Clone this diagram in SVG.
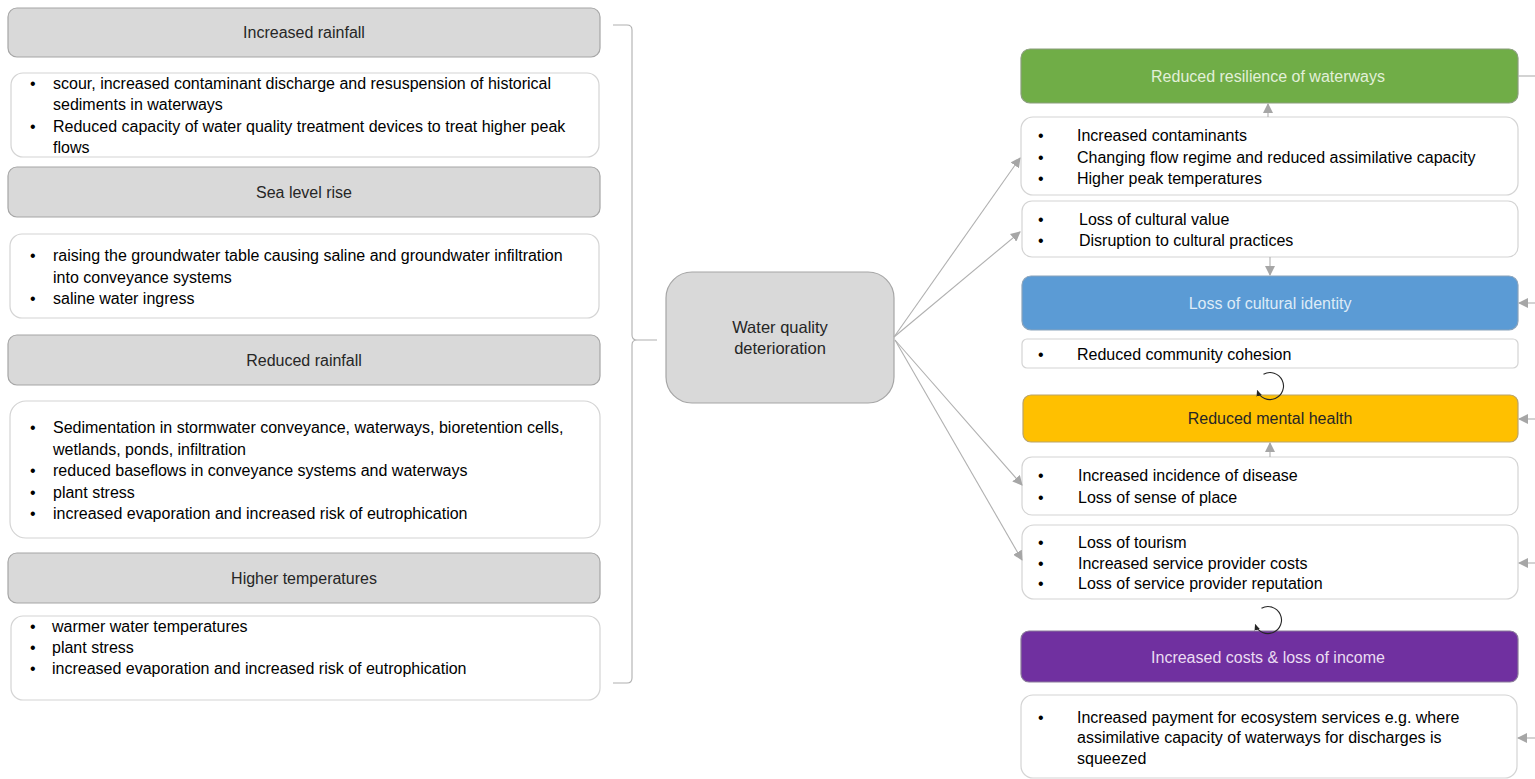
<svg xmlns="http://www.w3.org/2000/svg" width="1535" height="779" viewBox="0 0 1535 779">
  <style>
    text { font-family: "Liberation Sans", Arial, sans-serif; }
    .hdr { fill: #d9d9d9; stroke: #a6a6a6; stroke-width: 1.2; }
    .box { fill: #ffffff; stroke: #d4d4d4; stroke-width: 1.2; }
    .htxt { font-size: 16px; fill: #262626; text-anchor: middle; }
    .body { font-size: 16px; fill: #000000; }
    .conn { fill: none; stroke: #b0b0b0; stroke-width: 1.1; }
    .loop { fill: none; stroke: #262626; stroke-width: 1.1; }
  </style>
  <defs>
    <marker id="arrow" viewBox="0 0 10 10" refX="9" refY="5" markerWidth="10" markerHeight="10" markerUnits="userSpaceOnUse" orient="auto">
      <path d="M0,0 L10,5 L0,10 Z" fill="#a6a6a6"/>
    </marker>
    <marker id="loopHead" viewBox="0 0 10 10" refX="8" refY="5" markerWidth="7" markerHeight="7" markerUnits="userSpaceOnUse" orient="auto">
      <path d="M0,1 L9,5 L0,9 Z" fill="#262626"/>
    </marker>
  </defs>

  <!-- Drivers: left column -->
  <g id="increased-rainfall">
    <rect class="hdr" x="8" y="8" width="592" height="49" rx="9"/>
    <text class="htxt" x="304" y="38">Increased rainfall</text>
  </g>
  <g id="increased-rainfall-effects">
    <rect class="box" x="11" y="73" width="588" height="84" rx="12"/>
    <text class="body" x="30" y="89">•</text>
    <text class="body" x="53" y="89">scour, increased contaminant discharge and resuspension of historical</text>
    <text class="body" x="53" y="110">sediments in waterways</text>
    <text class="body" x="30" y="132">•</text>
    <text class="body" x="53" y="132">Reduced capacity of water quality treatment devices to treat higher peak</text>
    <text class="body" x="53" y="153">flows</text>
  </g>

  <g id="sea-level-rise">
    <rect class="hdr" x="8" y="167" width="592" height="50" rx="9"/>
    <text class="htxt" x="304" y="198">Sea level rise</text>
  </g>
  <g id="sea-level-rise-effects">
    <rect class="box" x="10" y="234" width="589" height="84" rx="12"/>
    <text class="body" x="30" y="261">•</text>
    <text class="body" x="53" y="261">raising the groundwater table causing saline and groundwater infiltration</text>
    <text class="body" x="53" y="283">into conveyance systems</text>
    <text class="body" x="30" y="304">•</text>
    <text class="body" x="53" y="304">saline water ingress</text>
  </g>

  <g id="reduced-rainfall">
    <rect class="hdr" x="8" y="335" width="592" height="50" rx="9"/>
    <text class="htxt" x="304" y="366">Reduced rainfall</text>
  </g>
  <g id="reduced-rainfall-effects">
    <rect class="box" x="10" y="401" width="590" height="137" rx="16"/>
    <text class="body" x="30" y="433">•</text>
    <text class="body" x="53" y="433">Sedimentation in stormwater conveyance, waterways, bioretention cells,</text>
    <text class="body" x="53" y="455">wetlands, ponds, infiltration</text>
    <text class="body" x="30" y="476">•</text>
    <text class="body" x="53" y="476">reduced baseflows in conveyance systems and waterways</text>
    <text class="body" x="30" y="498">•</text>
    <text class="body" x="53" y="498">plant stress</text>
    <text class="body" x="30" y="519">•</text>
    <text class="body" x="53" y="519">increased evaporation and increased risk of eutrophication</text>
  </g>

  <g id="higher-temperatures">
    <rect class="hdr" x="8" y="553" width="592" height="50" rx="9"/>
    <text class="htxt" x="304" y="584">Higher temperatures</text>
  </g>
  <g id="higher-temperatures-effects">
    <rect class="box" x="11" y="616" width="589" height="84" rx="12"/>
    <text class="body" x="30" y="632">•</text>
    <text class="body" x="52" y="632">warmer water temperatures</text>
    <text class="body" x="30" y="653">•</text>
    <text class="body" x="52" y="653">plant stress</text>
    <text class="body" x="30" y="674">•</text>
    <text class="body" x="52" y="674">increased evaporation and increased risk of eutrophication</text>
  </g>

  <!-- Central node -->
  <g id="water-quality-deterioration">
    <rect x="666" y="272" width="228" height="131" rx="26" fill="#d9d9d9" stroke="#a6a6a6" stroke-width="1.2"/>
    <text x="780" y="333" font-size="16.5" fill="#262626" text-anchor="middle">Water quality</text>
    <text x="780" y="354" font-size="16.5" fill="#262626" text-anchor="middle">deterioration</text>
  </g>

  <!-- Impacts: right column -->
  <g id="reduced-resilience">
    <rect x="1021" y="49" width="497" height="54" rx="9" fill="#70ad47" stroke="#8a9e7c" stroke-width="1.2"/>
    <text x="1268" y="82" font-size="16" fill="#e2f0d9" text-anchor="middle">Reduced resilience of waterways</text>
  </g>
  <g id="waterway-effects">
    <rect class="box" x="1021" y="117" width="497" height="78" rx="12"/>
    <text class="body" x="1038" y="141">•</text>
    <text class="body" x="1077" y="141">Increased contaminants</text>
    <text class="body" x="1038" y="163">•</text>
    <text class="body" x="1077" y="163">Changing flow regime and reduced assimilative capacity</text>
    <text class="body" x="1038" y="184">•</text>
    <text class="body" x="1077" y="184">Higher peak temperatures</text>
  </g>
  <g id="cultural-effects">
    <rect class="box" x="1022" y="201" width="496" height="56" rx="10"/>
    <text class="body" x="1038" y="225">•</text>
    <text class="body" x="1079" y="225">Loss of cultural value</text>
    <text class="body" x="1038" y="246">•</text>
    <text class="body" x="1079" y="246">Disruption to cultural practices</text>
  </g>
  <g id="loss-of-cultural-identity">
    <rect x="1022" y="276" width="496" height="54" rx="9" fill="#5b9bd5" stroke="#8aa3bb" stroke-width="1.2"/>
    <text x="1270" y="309" font-size="16" fill="#deebf7" text-anchor="middle">Loss of cultural identity</text>
  </g>
  <g id="community-effects">
    <rect class="box" x="1022" y="339" width="496" height="29" rx="5"/>
    <text class="body" x="1038" y="360">•</text>
    <text class="body" x="1077" y="360">Reduced community cohesion</text>
  </g>
  <g id="reduced-mental-health">
    <rect x="1023" y="395" width="495" height="47" rx="8" fill="#ffc000" stroke="#b9a36a" stroke-width="1.2"/>
    <text x="1270" y="424" font-size="16" fill="#262626" text-anchor="middle">Reduced mental health</text>
  </g>
  <g id="health-effects">
    <rect class="box" x="1022" y="457" width="496" height="58" rx="10"/>
    <text class="body" x="1038" y="481">•</text>
    <text class="body" x="1078" y="481">Increased incidence of disease</text>
    <text class="body" x="1038" y="503">•</text>
    <text class="body" x="1078" y="503">Loss of sense of place</text>
  </g>
  <g id="economic-effects">
    <rect class="box" x="1022" y="525" width="496" height="74" rx="12"/>
    <text class="body" x="1038" y="548">•</text>
    <text class="body" x="1078" y="548">Loss of tourism</text>
    <text class="body" x="1038" y="569">•</text>
    <text class="body" x="1078" y="569">Increased service provider costs</text>
    <text class="body" x="1038" y="589">•</text>
    <text class="body" x="1078" y="589">Loss of service provider reputation</text>
  </g>
  <g id="increased-costs">
    <rect x="1021" y="631" width="497" height="51" rx="8" fill="#7030a0" stroke="#8a7a9a" stroke-width="1.2"/>
    <text x="1268" y="663" font-size="16" fill="#eadcf2" text-anchor="middle">Increased costs &amp; loss of income</text>
  </g>
  <g id="payment-effects">
    <rect class="box" x="1021" y="695" width="496" height="83" rx="12"/>
    <text class="body" x="1038" y="723">•</text>
    <text class="body" x="1077" y="723">Increased payment for ecosystem services e.g. where</text>
    <text class="body" x="1077" y="743">assimilative capacity of waterways for discharges is</text>
    <text class="body" x="1077" y="764">squeezed</text>
  </g>

  <!-- Connectors -->
  <g id="connectors">
    <!-- bracket gathering the drivers -->
    <path class="conn" d="M613,25 L627,25 Q632,25 632,30 L632,335 Q632,340 637,340 L657,340 M637,340 Q632,340 632,345 L632,678 Q632,683 627,683 L613,683" stroke="#c8c8c8" stroke-width="1.4"/>

    <!-- central node to impacts -->
    <line class="conn" x1="894" y1="337" x2="1020" y2="158" marker-end="url(#arrow)"/>
    <line class="conn" x1="894" y1="337" x2="1020" y2="232" marker-end="url(#arrow)"/>
    <line class="conn" x1="895" y1="340" x2="1022" y2="485" marker-end="url(#arrow)"/>
    <line class="conn" x1="895" y1="340" x2="1022" y2="560" marker-end="url(#arrow)"/>

    <!-- vertical links inside the impact column -->
    <line class="conn" x1="1268" y1="117" x2="1268" y2="104" marker-end="url(#arrow)"/>
    <line class="conn" x1="1270" y1="257" x2="1270" y2="275" marker-end="url(#arrow)"/>
    <line class="conn" x1="1270" y1="457" x2="1270" y2="443" marker-end="url(#arrow)"/>

    <!-- links leaving / entering at the right edge -->
    <line class="conn" x1="1518" y1="76" x2="1535" y2="76"/>
    <line class="conn" x1="1535" y1="303" x2="1519" y2="303" marker-end="url(#arrow)"/>
    <line class="conn" x1="1535" y1="419" x2="1519" y2="419" marker-end="url(#arrow)"/>
    <line class="conn" x1="1535" y1="563" x2="1519" y2="563" marker-end="url(#arrow)"/>
    <line class="conn" x1="1535" y1="738" x2="1518" y2="738" marker-end="url(#arrow)"/>

    <!-- feedback loops -->
    <path class="loop" d="M1263.5,374.2 A13.5,13.5 0 1 1 1257.3,390.6" marker-end="url(#loopHead)"/>
    <path class="loop" d="M1261.5,608.2 A13.5,13.5 0 1 1 1255.3,624.6" marker-end="url(#loopHead)"/>
  </g>
</svg>
